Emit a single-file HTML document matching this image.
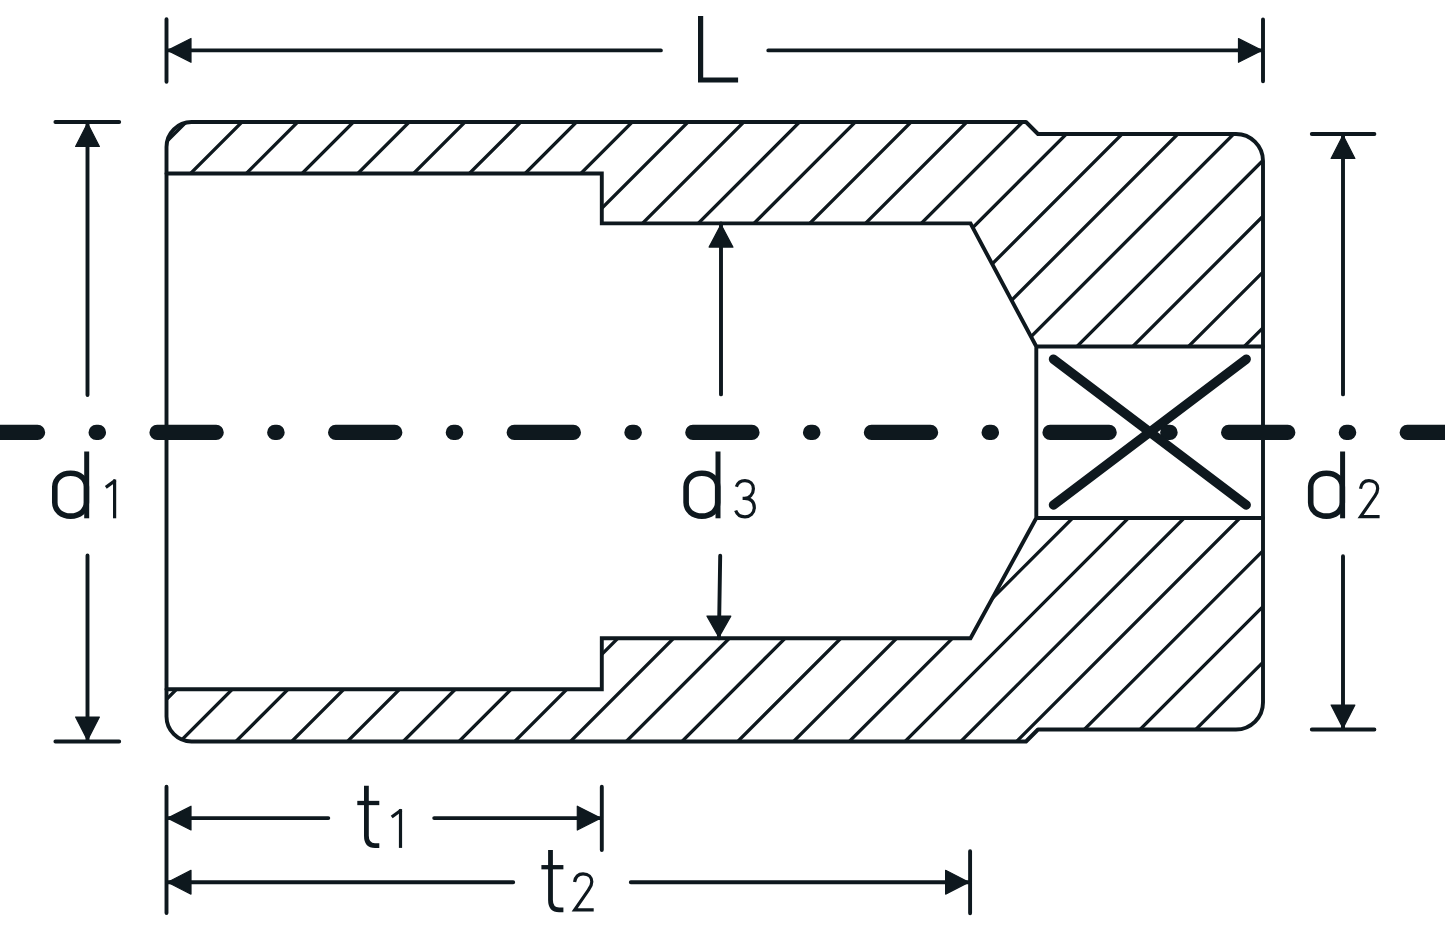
<!DOCTYPE html>
<html><head><meta charset="utf-8"><title>Socket drawing</title>
<style>html,body{margin:0;padding:0;background:#fff;width:1445px;height:933px;overflow:hidden;font-family:"Liberation Sans",sans-serif;}svg{display:block;}</style>
</head><body>
<svg width="1445" height="933" viewBox="0 0 1445 933">
<defs>
<clipPath id="cu"><path d="M166.5 147 A25.0 25.0 0 0 1 191.5 122 L1026 122 L1038 134 L1236 134 A27.0 27.0 0 0 1 1263 161 L1263 346.5 L1036.3 346.5 L970.5 223.4 L601.8 223.4 L601.8 173.5 L166.5 173.5 Z"/></clipPath>
<clipPath id="cl"><path d="M166.5 716.5 A25.0 25.0 0 0 0 191.5 741.5 L1026 741.5 L1038 729.5 L1236 729.5 A27.0 27.0 0 0 0 1263 702.5 L1263 518 L1036.3 518 L970.5 638.3 L601.8 638.3 L601.8 689.2 L166.5 689.2 Z"/></clipPath>
</defs>
<rect width="1445" height="933" fill="#ffffff"/>
<g stroke="#0e181e" fill="none" stroke-linecap="round" stroke-linejoin="round">
<path clip-path="url(#cu)" d="M196.72 0 L-743.28 940 M252.48 0 L-687.52 940 M308.24 0 L-631.76 940 M364 0 L-576 940 M419.76 0 L-520.24 940 M475.52 0 L-464.48 940 M531.28 0 L-408.72 940 M587.04 0 L-352.96 940 M642.8 0 L-297.2 940 M698.56 0 L-241.44 940 M754.32 0 L-185.68 940 M810.08 0 L-129.92 940 M865.84 0 L-74.16 940 M921.6 0 L-18.4 940 M977.36 0 L37.36 940 M1033.12 0 L93.12 940 M1088.88 0 L148.88 940 M1144.64 0 L204.64 940 M1200.4 0 L260.4 940 M1256.16 0 L316.16 940 M1311.92 0 L371.92 940 M1367.68 0 L427.68 940 M1423.44 0 L483.44 940 M1479.2 0 L539.2 940 M1534.96 0 L594.96 940 M1590.72 0 L650.72 940 M1646.48 0 L706.48 940 M1702.24 0 L762.24 940 M1758 0 L818 940 M1813.76 0 L873.76 940 M1869.52 0 L929.52 940 M1925.28 0 L985.28 940 M1981.04 0 L1041.04 940 M2036.8 0 L1096.8 940 M2092.56 0 L1152.56 940" stroke-width="3.3" stroke-linecap="butt"/>
<path clip-path="url(#cl)" d="M196.72 0 L-743.28 940 M252.48 0 L-687.52 940 M308.24 0 L-631.76 940 M364 0 L-576 940 M419.76 0 L-520.24 940 M475.52 0 L-464.48 940 M531.28 0 L-408.72 940 M587.04 0 L-352.96 940 M642.8 0 L-297.2 940 M698.56 0 L-241.44 940 M754.32 0 L-185.68 940 M810.08 0 L-129.92 940 M865.84 0 L-74.16 940 M921.6 0 L-18.4 940 M977.36 0 L37.36 940 M1033.12 0 L93.12 940 M1088.88 0 L148.88 940 M1144.64 0 L204.64 940 M1200.4 0 L260.4 940 M1256.16 0 L316.16 940 M1311.92 0 L371.92 940 M1367.68 0 L427.68 940 M1423.44 0 L483.44 940 M1479.2 0 L539.2 940 M1534.96 0 L594.96 940 M1590.72 0 L650.72 940 M1646.48 0 L706.48 940 M1702.24 0 L762.24 940 M1758 0 L818 940 M1813.76 0 L873.76 940 M1869.52 0 L929.52 940 M1925.28 0 L985.28 940 M1981.04 0 L1041.04 940 M2036.8 0 L1096.8 940 M2092.56 0 L1152.56 940" stroke-width="3.3" stroke-linecap="butt"/>
<path d="M166.5 147 A25.0 25.0 0 0 1 191.5 122 L1026 122 L1038 134 L1236 134 A27.0 27.0 0 0 1 1263 161 L1263 702.5 A27.0 27.0 0 0 1 1236 729.5 L1038 729.5 L1026 741.5 L191.5 741.5 A25.0 25.0 0 0 1 166.5 716.5 Z" stroke-width="3.9"/>
<path d="M166.5 173.5 H601.8 V223.4 H970.5 L1036.3 346.5 H1263 M166.5 689.2 H601.8 V638.3 H970.5 L1036.3 518 H1263 M1036.3 346.5 V518" stroke-width="3.9" stroke-linejoin="miter"/>
<path d="M166.5 19.3 V81.7 M1263 19.4 V81.2 M166.5 50.4 H660.9 M768.3 50.4 H1263 M55.4 122 H119.2 M55.4 741.5 H119.2 M87.5 122 V395 M87.5 555.4 V741.5 M1311.8 134 H1374.4 M1311.8 729.5 H1374.4 M1343.0 134 V394.4 M1343.0 556.2 V729.5 M721 223.4 V394.4 M720.2 555.8 L718.9 638.3 M166.5 786.8 V913 M601.8 786.8 V850 M970.1 851.2 V913.2 M166.5 818.1 H328.3 M434.2 818.1 H601.8 M166.5 882.2 H513.2 M630.8 882.2 H970.1" stroke-width="3.9"/>
<path d="M-21.5 432.4 h59.0 M96.2 432.4 h2.2 M157.1 432.4 h59.0 M274.8 432.4 h2.2 M335.7 432.4 h59.0 M453.4 432.4 h2.2 M514.3 432.4 h59.0 M632 432.4 h2.2 M692.9 432.4 h59.0 M810.6 432.4 h2.2 M871.5 432.4 h59.0 M989.2 432.4 h2.2 M1050.1 432.4 h59.0 M1167.8 432.4 h2.2 M1228.7 432.4 h59.0 M1346.4 432.4 h2.2 M1407.3 432.4 h59.0 M1525 432.4 h2.2 M1585.9 432.4 h59.0 M1703.6 432.4 h2.2" stroke-width="15.4"/>
<path d="M1053.5 359.2 L1246.2 505.0 M1246.2 359.2 L1053.5 505.0" stroke-width="9.4"/>
</g>
<g fill="#0e181e" stroke="#0e181e" stroke-width="1.2" stroke-linejoin="round"><path d="M167.7 50.4 L191 38.5 L191 62.3 Z M1261.8 50.4 L1238.5 62.3 L1238.5 38.5 Z M87.5 123.2 L99.4 146.5 L75.6 146.5 Z M87.5 740.3 L75.6 717 L99.4 717 Z M1343 135.2 L1354.9 158.5 L1331.1 158.5 Z M1343 728.3 L1331.1 705 L1354.9 705 Z M721 224.6 L732.9 247.1 L709.1 247.1 Z M718.9 637.1 L707 616.1 L730.8 616.1 Z M167.7 818.1 L191 806.2 L191 830 Z M600.6 818.1 L577.3 830 L577.3 806.2 Z M167.7 882.2 L191 870.3 L191 894.1 Z M968.9 882.2 L945.6 894.1 L945.6 870.3 Z"/></g>
<g stroke="#0e181e" fill="none" stroke-linecap="butt" stroke-linejoin="round"><path d="M700.6 16.1 V80 H738.1" stroke-width="5.2" stroke-linejoin="miter"/><path d="M86.7 451.5 V518.3" stroke-width="5.0"/><path d="M54.8 486.7 C54.8 478.87 61.44 473.2 70.6 473.2 C79.76 473.2 86.4 478.87 86.4 486.7 L86.4 502.6 C86.4 510.43 79.76 516.1 70.6 516.1 C61.44 516.1 54.8 510.43 54.8 502.6 Z" stroke-width="5.6"/><path d="M114.6 479.5 V518.3" stroke-width="3.2"/><path d="M115.4 480.4 L105.8 487.4" stroke-width="3.2"/><path d="M718 451.5 V518.3" stroke-width="5.0"/><path d="M686.1 486.7 C686.1 478.87 692.74 473.2 701.9 473.2 C711.06 473.2 717.7 478.87 717.7 486.7 L717.7 502.6 C717.7 510.43 711.06 516.1 701.9 516.1 C692.74 516.1 686.1 510.43 686.1 502.6 Z" stroke-width="5.6"/><path d="M736.4 486.8 C737.6 483 740.6 480.6 745 480.6 C750 480.6 753.4 484 753.4 488.8 C753.4 494 749.6 498.3 744.6 498.3 H742.6 M744.6 498.3 C750.6 498.3 754.3 501.6 754.3 507.4 C754.3 513.4 750 516.9 745 516.9 C740.4 516.9 737 514.6 735.7 510.6" stroke-width="3.2"/><path d="M1342.6 451.5 V518.3" stroke-width="5.0"/><path d="M1310.7 486.7 C1310.7 478.87 1317.34 473.2 1326.5 473.2 C1335.66 473.2 1342.3 478.87 1342.3 486.7 L1342.3 502.6 C1342.3 510.43 1335.66 516.1 1326.5 516.1 C1317.34 516.1 1310.7 510.43 1310.7 502.6 Z" stroke-width="5.6"/><path d="M1360.5 488.8 C1361.2 483.6 1364.5 480.6 1369 480.6 C1374.5 480.6 1377.7 484.2 1377.7 488.6 C1377.7 491.6 1376.6 493.8 1374.6 496.4 L1360.6 516.7 H1379.6" stroke-width="3.2" stroke-linejoin="miter"/><path d="M366.4 785.8 V835.8 C366.4 842.4 369.6 845.6 375 845.6 H379.3" stroke-width="4.8"/><path d="M357.3 803 H379.3" stroke-width="4.3"/><path d="M400.5 809.1 V847.9" stroke-width="3.2"/><path d="M401.3 810 L391.7 817" stroke-width="3.2"/><path d="M550.5 850 V900 C550.5 906.6 553.7 909.8 559.1 909.8 H563.4" stroke-width="4.8"/><path d="M541.4 867.2 H563.4" stroke-width="4.3"/><path d="M574.6 882 C575.3 876.8 578.6 873.8 583.1 873.8 C588.6 873.8 591.8 877.4 591.8 881.8 C591.8 884.8 590.7 887 588.7 889.6 L574.7 909.9 H593.7" stroke-width="3.2" stroke-linejoin="miter"/></g>
</svg>
</body></html>
